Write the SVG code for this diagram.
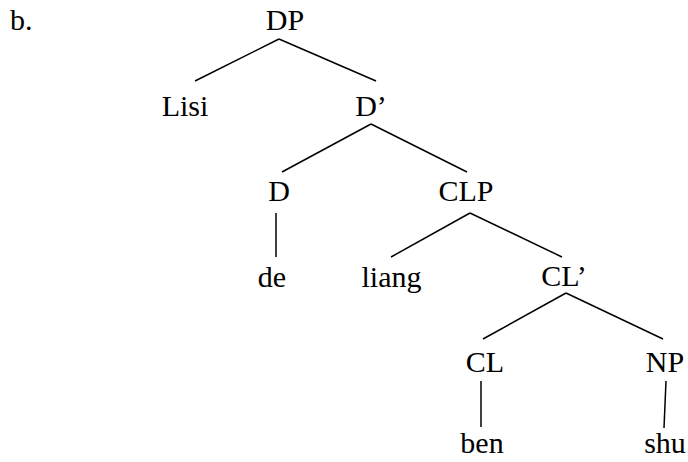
<svg xmlns="http://www.w3.org/2000/svg" width="688" height="462" viewBox="0 0 688 462">
<style>
text{font-family:"Liberation Serif","Times New Roman",serif;font-size:30px;fill:#000;text-anchor:middle}
.e line{stroke:#000;stroke-width:1.5;stroke-linecap:butt}
</style>
<rect width="688" height="462" fill="#fff"/>
<text x="10" y="30" style="text-anchor:start">b.</text>
<g class="e" id="edges">
<line x1="279" y1="39" x2="195" y2="81"/>
<line x1="279" y1="39" x2="376" y2="81"/>
<line x1="371" y1="124" x2="282" y2="172"/>
<line x1="371" y1="124" x2="467" y2="172"/>
<line x1="276" y1="213" x2="276" y2="257"/>
<line x1="470" y1="213" x2="391" y2="257"/>
<line x1="470" y1="213" x2="562" y2="257"/>
<line x1="566" y1="293" x2="483" y2="339"/>
<line x1="566" y1="293" x2="663" y2="339"/>
<line x1="481" y1="381" x2="481" y2="427"/>
<line x1="666" y1="381" x2="664" y2="428"/>
</g>
<g id="DP"><text x="285" y="30">DP</text></g>
<g id="Lisi"><text x="185" y="116">Lisi</text></g>
<g id="Dbar"><text x="371" y="116">D’</text></g>
<g id="D"><text x="279" y="201">D</text></g>
<g id="CLP"><text x="466" y="201">CLP</text></g>
<g id="de"><text x="272" y="287">de</text></g>
<g id="liang"><text x="391.5" y="287">liang</text></g>
<g id="CLbar"><text x="564" y="286">CL’</text></g>
<g id="CL"><text x="485" y="372">CL</text></g>
<g id="NP"><text x="665" y="372">NP</text></g>
<g id="ben"><text x="482" y="453">ben</text></g>
<g id="shu"><text x="665" y="453">shu</text></g>
</svg>
